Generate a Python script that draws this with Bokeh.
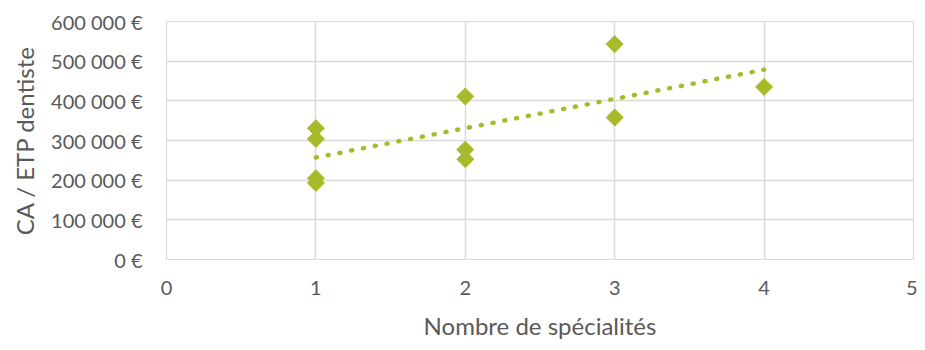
import numpy as np
from bokeh.plotting import figure
from bokeh.models import Range1d, FixedTicker
from bokeh.embed import file_html
from bokeh.resources import INLINE

# Data
nb_specialites = [1, 1, 1, 1, 2, 2, 2, 3, 3, 4]
ca_par_etp = [331000, 304000, 205000, 193000, 411000, 277000, 253000, 543000, 358000, 435000]

x_ticks = [0, 1, 2, 3, 4, 5]
y_ticks = [0, 100000, 200000, 300000, 400000, 500000, 600000]
y_tick_labels = ["0 €", "100 000 €", "200 000 €", "300 000 €", "400 000 €", "500 000 €", "600 000 €"]

x_title = "Nombre de spécialités"
y_title = "CA / ETP dentiste"

GREEN = "#a8b92a"
GRID = "#d9d9d9"
TEXT = "#595959"
FONT = "Lato"

p = figure(width=917, height=342, output_backend="svg", toolbar_location=None,
           x_range=Range1d(0, 5), y_range=Range1d(0, 600000),
           min_border_left=166, min_border_right=4, min_border_top=21, min_border_bottom=0)
p.outline_line_color = GRID

# linear trendline (least squares) over data extent
slope, intercept = np.polyfit(nb_specialites, ca_par_etp, 1)
tx = np.array([min(nb_specialites), max(nb_specialites)], dtype=float)
p.line(tx, slope * tx + intercept, line_color=GREEN, line_width=4.5,
       line_dash="1 11", line_cap="round")

p.scatter(nb_specialites, ca_par_etp, marker="square", angle=np.pi / 4, size=12,
          fill_color=GREEN, line_color=GREEN)

for ax in (p.xaxis, p.yaxis):
    ax.major_tick_line_color = None
    ax.minor_tick_line_color = None
    ax.major_tick_out = 0
    ax.major_tick_in = 0
    ax.minor_tick_out = 0
    ax.minor_tick_in = 0
    ax.major_label_text_color = TEXT
    ax.major_label_text_font = FONT
    ax.major_label_text_font_size = "20px"
    ax.axis_label_text_color = TEXT
    ax.axis_label_text_font = FONT
    ax.axis_label_text_font_size = "24px"
    ax.axis_label_text_font_style = "normal"

p.xaxis.ticker = FixedTicker(ticks=x_ticks)
p.yaxis.ticker = FixedTicker(ticks=y_ticks)
p.yaxis.major_label_overrides = {t: l for t, l in zip(y_ticks, y_tick_labels)}
p.xaxis.axis_label = x_title
p.yaxis.axis_label = y_title
p.xaxis.axis_line_color = GRID
p.yaxis.axis_line_color = None
p.yaxis.major_label_standoff = 24
p.xaxis.major_label_standoff = 21
p.yaxis.axis_label_standoff = 9
p.xaxis.axis_label_standoff = 13

p.xgrid.ticker = FixedTicker(ticks=x_ticks)
p.ygrid.ticker = FixedTicker(ticks=y_ticks)
p.xgrid.grid_line_color = GRID
p.ygrid.grid_line_color = GRID
p.xgrid.grid_line_width = 1.5
p.ygrid.grid_line_width = 1.5

open("out.html", "w").write(file_html(p, INLINE))
